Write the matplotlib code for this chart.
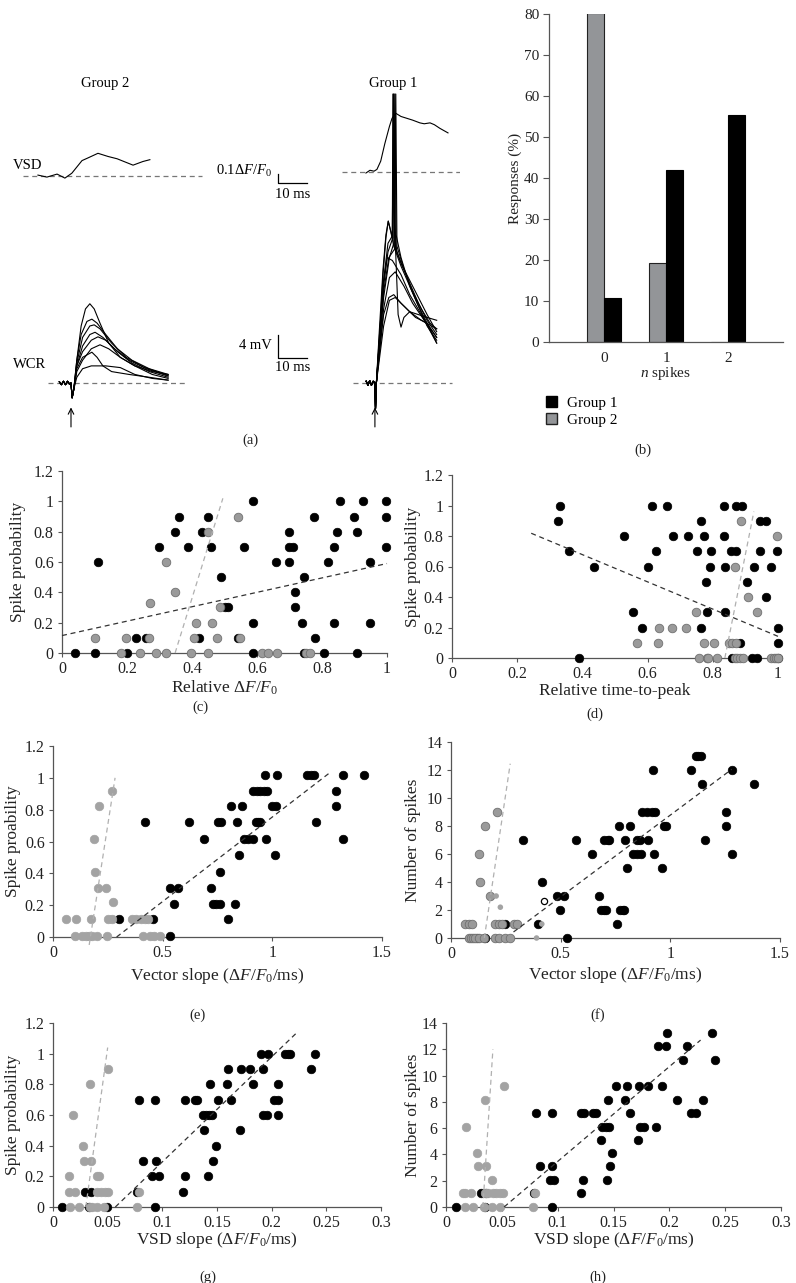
import numpy as np
import matplotlib
matplotlib.use('Agg')
import matplotlib.pyplot as plt
from matplotlib.patches import Patch
from matplotlib.ticker import FuncFormatter, MultipleLocator

plt.rcParams['font.family'] = ['Liberation Serif', 'DejaVu Serif']
plt.rcParams['mathtext.fontset'] = 'custom'
plt.rcParams['mathtext.rm'] = 'Liberation Serif'
plt.rcParams['mathtext.it'] = 'Liberation Serif:italic'
plt.rcParams['font.size'] = 10

W, H = 796, 1283
GRAY = '#9a9a9a'
GRAY_EDGE = '#707070'
SPINE = '#555555'

# ---------------- (a) example traces: time (ms) vs mV, VSD in dF/F0 ----------------
g2_pre = [(-4, 0.2), (-3.3, -0.3), (-2.6, 0.3), (-1.9, -0.3), (-1.2, 0.3), (-0.5, -0.2), (0, 0), (0.4, -2.6)]
g2_wcr = [
    [(1, -1), (2, 4), (3.5, 10), (5, 13), (6.5, 13.9), (8, 13), (10, 10.5), (13, 7), (17, 4.5), (22, 3), (28, 2), (33.5, 1.5)],
    [(1, -1), (2, 4), (3.5, 8.5), (5.5, 10.8), (7.2, 11.2), (9, 10.5), (12, 8.5), (16, 6), (21, 4), (27, 2.5), (33.5, 1.5)],
    [(1, -1), (2, 3.5), (4, 8), (6.5, 10), (8, 10.2), (10, 9.5), (14, 7), (19, 4.5), (25, 2.8), (33.5, 1.3)],
    [(1, -1), (2, 3), (4, 6.5), (6.5, 8.5), (8.3, 8.9), (11, 8), (15, 6), (20, 4), (26, 2.5), (33.5, 1.2)],
    [(1, -1), (2, 3), (4, 5.5), (7, 7.5), (9.3, 8.1), (12, 7.5), (16, 5.5), (21, 3.5), (27, 2), (33.5, 1)],
    [(1, -1), (2, 2), (4, 4), (7, 6), (10, 6.7), (13, 6), (17, 4.5), (22, 3), (28, 1.5), (33.5, 0.8)],
    [(1, -1), (2, 2.5), (4, 4.5), (7.2, 5.4), (9, 4.5), (11, 3), (14, 2), (20, 1.5), (27, 1), (33.5, 0.5)],
    [(1, -1), (2, 1), (4, 2.5), (7, 3), (12, 3), (17, 2.7), (22, 1.5), (28, 0.8), (33.5, 0.5)],
]
g2_vsd = [(-11.4, 0.011), (-8.3, -0.011), (-4.8, 0.022), (-2.1, -0.022), (0.3, 0.032), (3.8, 0.17),
          (5.9, 0.20), (9.3, 0.25), (12.8, 0.215), (15.9, 0.19), (21.4, 0.12), (24.8, 0.16), (27.2, 0.18)]

g1_pre = [(-3, 0.3), (-2.4, -0.4), (-1.8, 0.4), (-1.2, -0.4), (-0.6, 0.3), (0, 0), (0.2, -4.5), (0.5, 0)]
g1_wcr = [
    [(1.5, 9), (2.8, 20), (3.8, 26), (4.6, 28.4), (5.3, 27), (6, 25.5), (6.2, 50.7), (6.5, 30), (7, 24), (9, 21), (12, 17.5), (15, 14), (18, 11), (21.3, 8.5)],
    [(1.5, 8), (3, 18), (4.5, 24.5), (6, 25.8), (6.4, 50.7), (6.8, 28), (7.5, 23), (9.5, 20.5), (12, 18), (15, 15), (18, 12), (21.3, 9)],
    [(1.5, 7), (3, 17), (4.5, 23), (6.2, 25.5), (6.6, 50.7), (7, 25), (8, 12), (9, 9.8), (10, 11.5), (12, 12.5), (15, 12), (18, 11.5), (21.3, 11)],
    [(1.5, 6), (3, 15), (5, 22), (6.5, 24.5), (6.9, 50.7), (7.3, 26), (9, 22), (12, 17), (15, 13.5), (18, 10.5), (21.3, 8)],
    [(1.5, 6), (3, 16), (4.8, 22), (6.8, 23.5), (7.2, 50.7), (7.6, 24), (10, 20), (13, 16), (16, 13), (19, 10.5), (21.3, 9.5)],
    [(1.5, 7), (3, 18), (4.2, 22), (6, 21.5), (9, 19), (12, 15.5), (16, 12), (21.3, 7)],
    [(1.5, 5), (3, 13), (5, 18.5), (7, 19.5), (10, 17), (13, 14), (17, 11), (21.3, 8)],
    [(1.5, 5), (3, 12), (4.8, 15), (6.5, 15.5), (9, 14), (12, 12.5), (16, 11), (21.3, 9.5)],
    [(1.5, 4), (3, 10), (5, 14.5), (7, 15), (10, 13.5), (14, 11.5), (18, 10.5), (21.3, 7)],
    [(1.5, 7), (2.8, 19), (3.8, 25.5), (4.6, 28.4), (5.5, 26.5), (6.5, 24), (9, 20.5), (12, 17), (15, 13.5), (18, 10), (21.3, 7.5)],
]
g1_vsd = [(-3.1, -0.01), (-1.7, 0.02), (-0.3, 0.01), (0.7, 0.03), (2, 0.12), (3.4, 0.31), (5, 0.5), (5.9, 0.59),
          (7.2, 0.645), (9, 0.61), (11, 0.59), (13, 0.57), (15.5, 0.54), (17, 0.53), (19, 0.54), (20.5, 0.52),
          (22.4, 0.48), (25.2, 0.43)]

# ---------------- (b) responses ----------------
n_spikes = [0, 1, 2]
resp_g1 = [10.8, 42.0, 55.3]
resp_g2 = [80.3, 19.3, 0.0]

# ---------------- (c) relative dF/F0 vs spike probability ----------------
c_g1_x = [0.589, 0.856, 0.926, 0.997, 0.36, 0.45, 0.776, 0.897, 0.997, 0.349, 0.432, 0.698, 0.847, 0.908,
          0.299, 0.389, 0.458, 0.56, 0.698, 0.71, 0.836, 0.997, 0.11, 0.657, 0.698, 0.817, 0.947, 0.489, 0.746,
          0.717, 0.502, 0.511, 0.717, 0.589, 0.739, 0.836, 0.947, 0.228, 0.258, 0.421, 0.54, 0.778,
          0.04, 0.1, 0.199, 0.589, 0.746, 0.807, 0.908]
c_g1_y = [1, 1, 1, 1, 0.9, 0.9, 0.9, 0.9, 0.9, 0.8, 0.8, 0.8, 0.8, 0.8,
          0.7, 0.7, 0.7, 0.7, 0.7, 0.7, 0.7, 0.7, 0.6, 0.6, 0.6, 0.6, 0.6, 0.5, 0.5,
          0.4, 0.3, 0.3, 0.3, 0.2, 0.2, 0.2, 0.2, 0.1, 0.1, 0.1, 0.1, 0.1,
          0, 0, 0, 0, 0, 0, 0]
c_g2_x = [0.54, 0.45, 0.319, 0.349, 0.271, 0.487, 0.412, 0.463, 0.1, 0.197, 0.268, 0.407, 0.478, 0.548,
          0.181, 0.24, 0.289, 0.319, 0.397, 0.45, 0.615, 0.633, 0.661, 0.752, 0.762]
c_g2_y = [0.9, 0.8, 0.6, 0.4, 0.33, 0.3, 0.2, 0.2, 0.1, 0.1, 0.1, 0.1, 0.1, 0.1,
          0, 0, 0, 0, 0, 0, 0, 0, 0, 0, 0]
c_fit_g1 = ([0, 1], [0.115, 0.59])
c_fit_g2 = ([0.348, 0.495], [0, 1.02])

# ---------------- (d) relative time-to-peak ----------------
d_g1_x = [0.332, 0.613, 0.659, 0.834, 0.87, 0.89, 0.325, 0.765, 0.944, 0.962,
          0.528, 0.678, 0.725, 0.773, 0.834, 0.359, 0.625, 0.753, 0.796, 0.855, 0.87, 0.944, 0.998,
          0.436, 0.6, 0.79, 0.836, 0.926, 0.98, 0.78, 0.906, 0.963, 0.555, 0.782, 0.838,
          0.583, 0.764, 1.0, 0.884, 1.0, 0.39, 0.858, 0.92, 0.936, 1.0]
d_g1_y = [1, 1, 1, 1, 1, 1, 0.9, 0.9, 0.9, 0.9,
          0.8, 0.8, 0.8, 0.8, 0.8, 0.7, 0.7, 0.7, 0.7, 0.7, 0.7, 0.7, 0.7,
          0.6, 0.6, 0.6, 0.6, 0.6, 0.6, 0.5, 0.5, 0.4, 0.3, 0.3, 0.3,
          0.2, 0.2, 0.2, 0.1, 0.1, 0, 0, 0, 0, 0]
d_g2_x = [0.888, 0.998, 0.867, 0.908, 0.748, 0.935, 0.635, 0.675, 0.717,
          0.568, 0.632, 0.773, 0.803, 0.85, 0.86, 0.871,
          0.757, 0.783, 0.786, 0.814, 0.868, 0.875, 0.882, 0.893, 0.98, 0.987, 0.994, 1.0]
d_g2_y = [0.9, 0.8, 0.6, 0.4, 0.3, 0.3, 0.2, 0.2, 0.2,
          0.1, 0.1, 0.1, 0.1, 0.1, 0.1, 0.1,
          0, 0, 0, 0, 0, 0, 0, 0, 0, 0, 0, 0]
d_fit_g1 = ([0.243, 1.0], [0.818, 0.142])
d_fit_g2 = ([0.837, 0.926], [0, 0.96])

# ---------------- (e) vector slope vs spike probability ----------------
e_g1_x = [0.965, 1.02, 1.16, 1.175, 1.19, 1.32, 1.42, 0.91, 0.93, 0.945, 0.96, 0.975, 1.29,
          0.81, 0.86, 1.0, 1.015, 1.29, 0.42, 0.62, 0.75, 0.765, 0.84, 0.925, 0.935, 0.945, 1.2,
          0.69, 0.87, 0.89, 0.91, 0.97, 1.32, 0.85, 1.01, 0.76, 0.535, 0.57, 0.72,
          0.55, 0.73, 0.745, 0.76, 0.83, 0.3, 0.455, 0.8, 0.535]
e_g1_y = [1.02] * 7 + [0.92] * 6 + [0.82] * 5 + [0.72] * 9 + [0.615] * 6 + [0.515] * 2 + [0.41] + \
         [0.31] * 3 + [0.21] * 5 + [0.11] * 3 + [0.005]
e_g2_x = [0.27, 0.21, 0.185, 0.19, 0.205, 0.24, 0.275,
          0.06, 0.105, 0.175, 0.25, 0.27, 0.36, 0.38, 0.4, 0.42, 0.435,
          0.1, 0.13, 0.15, 0.165, 0.18, 0.2, 0.245, 0.41, 0.44, 0.46, 0.49]
e_g2_y = [0.92, 0.82, 0.615, 0.41, 0.31, 0.31, 0.22] + [0.11] * 10 + [0.005] * 11
e_fit_g1 = ([0.29, 1.26], [0, 1.03])
e_fit_g2 = ([0.165, 0.283], [-0.05, 1.0])

# ---------------- (f) vector slope vs number of spikes ----------------
f_g1_x = [1.115, 1.128, 1.141, 0.923, 1.093, 1.28, 1.143, 1.383, 0.87, 0.895, 0.915, 0.93, 1.253,
          0.767, 0.814, 0.973, 0.98, 1.253, 0.328, 0.569, 0.698, 0.714, 0.72, 0.795, 0.85, 0.862, 0.9, 1.158,
          0.642, 0.832, 0.847, 0.867, 0.926, 1.28, 0.803, 0.964, 0.414, 0.483, 0.513, 0.673,
          0.498, 0.683, 0.698, 0.707, 0.771, 0.783, 0.79, 0.247, 0.396, 0.759, 0.531, 0.12, 0.155]
f_g1_y = [13] * 3 + [12] * 3 + [11] * 2 + [9] * 5 + [8] * 5 + [7] * 10 + [6] * 6 + [5] * 2 + [4] + \
         [3] * 3 + [2] * 7 + [1] * 3 + [0] * 3
f_g2_x = [0.21, 0.156, 0.129, 0.134, 0.179, 0.065, 0.08, 0.096, 0.202, 0.217, 0.232, 0.285, 0.3,
          0.08, 0.09, 0.1, 0.11, 0.126, 0.149, 0.202, 0.22, 0.247, 0.27]
f_g2_y = [9, 8, 6, 4, 3] + [1] * 8 + [0] * 10
f_small_x = [0.206, 0.225, 0.414, 0.39]
f_small_y = [3, 2.2, 1, 0]
f_open = ([0.425], [2.64])
f_fit_g1 = ([0.285, 1.28], [0.43, 12.05])
f_fit_g2 = ([0.152, 0.27], [0, 12.45])

# ---------------- (g) VSD slope vs spike probability ----------------
g_g1_x = [0.19, 0.197, 0.212, 0.215, 0.217, 0.24, 0.16, 0.172, 0.18, 0.192, 0.236,
          0.144, 0.159, 0.183, 0.206, 0.079, 0.093, 0.121, 0.13, 0.132, 0.151, 0.163, 0.202, 0.206,
          0.137, 0.14, 0.143, 0.145, 0.192, 0.196, 0.206, 0.138, 0.171, 0.149,
          0.082, 0.094, 0.146, 0.091, 0.097, 0.121, 0.142, 0.029, 0.035, 0.077, 0.119,
          0.008, 0.033, 0.049, 0.093]
g_g1_y = [1] * 6 + [0.9] * 5 + [0.8] * 4 + [0.7] * 9 + [0.6] * 7 + [0.5] * 2 + [0.4] + \
         [0.3] * 3 + [0.2] * 4 + [0.1] * 4 + [0] * 4
g_g2_x = [0.05, 0.034, 0.018, 0.027, 0.028, 0.035, 0.015, 0.04, 0.042,
          0.015, 0.02, 0.04, 0.044, 0.048, 0.05, 0.079,
          0.016, 0.024, 0.034, 0.036, 0.04, 0.047, 0.077]
g_g2_y = [0.9, 0.8, 0.6, 0.4, 0.3, 0.3, 0.2, 0.2, 0.2] + [0.1] * 7 + [0] * 7
g_fit_g1 = ([0.057, 0.222], [0, 1.13])
g_fit_g2 = ([0.03, 0.05], [0, 1.04])

# ---------------- (h) VSD slope vs number of spikes ----------------
h_g1_x = [0.198, 0.238, 0.19, 0.197, 0.216, 0.212, 0.241, 0.152, 0.162, 0.173, 0.181, 0.193,
          0.145, 0.16, 0.207, 0.23, 0.081, 0.095, 0.121, 0.124, 0.132, 0.134, 0.165, 0.219, 0.224,
          0.14, 0.143, 0.146, 0.174, 0.177, 0.188, 0.139, 0.172, 0.149, 0.084, 0.095, 0.147,
          0.093, 0.097, 0.123, 0.144, 0.031, 0.036, 0.079, 0.121, 0.009, 0.035, 0.095]
h_g1_y = [13.25] * 2 + [12.25] * 3 + [11.2] * 2 + [9.2] * 5 + [8.15] * 4 + [7.15] * 9 + [6.1] * 6 + \
         [5.1] * 2 + [4.1] + [3.1] * 3 + [2.05] * 4 + [1.05] * 4 + [0] * 3
h_g2_x = [0.052, 0.035, 0.018, 0.028, 0.029, 0.036, 0.041,
          0.015, 0.017, 0.022, 0.035, 0.038, 0.042, 0.045, 0.048, 0.051, 0.08,
          0.017, 0.024, 0.034, 0.041, 0.048, 0.078]
h_g2_y = [9.2, 8.15, 6.1, 4.1, 3.1, 3.1, 2.05] + [1.05] * 10 + [0] * 6
h_fit_g1 = ([0.052, 0.228], [0, 12.7])
h_fit_g2 = ([0.033, 0.042], [0, 12.0])

fig = plt.figure(figsize=(W / 100, H / 100), dpi=100)


def px_axes(left, top, right, bottom):
    return fig.add_axes([left / W, 1 - bottom / H, (right - left) / W, (bottom - top) / H])


def fig_text(x, y, s, size=10.5):
    fig.text(x / W, 1 - y / H, s, ha='center', va='center', fontsize=size, color='#222222')


fmt = FuncFormatter(lambda v, p: f'{round(v, 3):g}')


def style_axes(ax, box, ylab_x, xlab_y, tick_size=11.5):
    left, top, right, bottom = box
    for s in ('top', 'right'):
        ax.spines[s].set_visible(False)
    for s in ('left', 'bottom'):
        ax.spines[s].set_color(SPINE)
        ax.spines[s].set_linewidth(0.9)
    ax.tick_params(direction='out', length=3, width=0.8, color=SPINE, labelcolor='#222222', labelsize=tick_size)
    ax.tick_params(axis='x', pad=3)
    ax.tick_params(axis='y', pad=3)
    ax.xaxis.set_major_formatter(fmt)
    ax.yaxis.set_major_formatter(fmt)
    ax.yaxis.label.set_va('center')
    ax.xaxis.label.set_va('center')
    ax.yaxis.set_label_coords((ylab_x - left) / (right - left), 0.5)
    ax.xaxis.set_label_coords(0.5, (bottom - xlab_y) / (bottom - top))


def scatter_panel(box, g1x, g1y, g2x, g2y, fit1, fit2, xlim, xstep, ylim, ystep, xlabel, ylabel,
                  ylab_x, xlab_y, gray_edge=True):
    ax = px_axes(*box)
    ax.scatter(g1x, g1y, s=38, c='black', edgecolors='black', linewidths=0.5, zorder=3, clip_on=False)
    if gray_edge:
        ax.scatter(g2x, g2y, s=38, c=GRAY, edgecolors=GRAY_EDGE, linewidths=0.6, zorder=4, clip_on=False)
    else:
        ax.scatter(g2x, g2y, s=38, c='#a3a3a3', edgecolors='#a3a3a3', linewidths=0.5, zorder=4, clip_on=False)
    ax.plot(*fit1, ls=(0, (4, 3)), color='#333333', lw=0.9, zorder=5, clip_on=False)
    ax.plot(*fit2, ls=(0, (4, 3)), color='#b0b0b0', lw=0.9, zorder=5, clip_on=False)
    ax.set_xlim(*xlim)
    ax.set_ylim(*ylim)
    ax.xaxis.set_major_locator(MultipleLocator(xstep))
    ax.yaxis.set_major_locator(MultipleLocator(ystep))
    ax.set_xlabel(xlabel, fontsize=12.5, color='#222222')
    ax.set_ylabel(ylabel, fontsize=12.5, color='#222222')
    style_axes(ax, box, ylab_x, xlab_y)
    return ax


# ---------------- panel (a) ----------------
ax_a = px_axes(0, 60, 460, 430)
ax_a.set_xlim(-24.48, 134.14)
ax_a.set_ylim(-8.25, 56.67)
ax_a.axis('off')
G1_T0 = 104.8      # horizontal placement of group 1 traces
VSD_BASE2, VSD_BASE1 = 36.3, 37.0
VSD_SCALE = 16.0   # mV-units per dF/F0 on the drawing
dash = dict(ls=(0, (4, 3)), color='#777777', lw=0.9)

ax_a.plot([-16.6, 45.2], [VSD_BASE2] * 2, **dash)
ax_a.plot([-7.9, 40], [0, 0], **dash)
ax_a.plot(np.array([-11.4, 30.5]) + G1_T0, [VSD_BASE1] * 2, **dash)
ax_a.plot(np.array([-7.6, 26.5]) + G1_T0, [0, 0], **dash)

for tr in g2_wcr:
    t, v = np.array(g2_pre + tr).T
    ax_a.plot(t, v, color='black', lw=0.8)
t, v = np.array(g2_vsd).T
ax_a.plot(t, VSD_BASE2 + v * VSD_SCALE, color='black', lw=0.8)

for tr in g1_wcr:
    t, v = np.array(g1_pre + tr).T
    ax_a.plot(t + G1_T0, v, color='black', lw=0.8)
t, v = np.array(g1_vsd).T
ax_a.plot(t + G1_T0, VSD_BASE1 + v * VSD_SCALE, color='black', lw=0.8)

for t0 in (0, G1_T0):
    ax_a.annotate('', xy=(t0, -3.8), xytext=(t0, -8.2),
                  arrowprops=dict(arrowstyle='->', lw=0.8, color='black', mutation_scale=10))

# scale bars
sb_t = 71.4
ax_a.plot([sb_t, sb_t, sb_t + 10], [35.1 + 0.1 * VSD_SCALE, 35.1, 35.1], color='black', lw=0.9)
ax_a.plot([sb_t, sb_t, sb_t + 10], [4.39 + 4, 4.39, 4.39], color='black', lw=0.9)
ax_a.text(sb_t - 1.8, 37.2, r'$0.1\Delta F/F_0$', ha='right', va='center', fontsize=10.5)
ax_a.text(sb_t + 5, 33.1, '10 ms', ha='center', va='center', fontsize=10.5)
ax_a.text(sb_t - 2.1, 6.6, '4 mV', ha='right', va='center', fontsize=10.5)
ax_a.text(sb_t + 5, 2.8, '10 ms', ha='center', va='center', fontsize=10.5)
ax_a.text(11.7, 52.6, 'Group 2', ha='center', va='center', fontsize=10.5)
ax_a.text(G1_T0 + 6.2, 52.6, 'Group 1', ha='center', va='center', fontsize=10.5)
ax_a.text(-20.0, 38.2, 'VSD', ha='left', va='center', fontsize=10.5)
ax_a.text(-20.0, 3.2, 'WCR', ha='left', va='center', fontsize=10.5)

# ---------------- panel (b) ----------------
box_b = (549, 14, 783, 342)
ax_b = px_axes(*box_b)
xb = np.array(n_spikes)
bw = 0.27
ax_b.bar(xb - bw / 2, resp_g2, width=bw, color='#939598', edgecolor='#222222', linewidth=0.8, label='Group 2')
ax_b.bar(xb + bw / 2, resp_g1, width=bw, color='black', edgecolor='black', linewidth=0.8, label='Group 1')
ax_b.set_xlim(-0.887, 2.887)
ax_b.set_ylim(0, 80)
ax_b.set_xticks(n_spikes)
ax_b.yaxis.set_major_locator(MultipleLocator(10))
ax_b.set_ylabel('Responses (%)', fontsize=11, color='#222222')
ax_b.set_xlabel(r'$n$ spikes', fontsize=11, color='#222222')
style_axes(ax_b, box_b, 515, 373, tick_size=11)
ax_b.tick_params(axis='x', length=0, pad=7)
ax_b.tick_params(axis='y', length=4)
handles = [Patch(facecolor='black', edgecolor='black', label='Group 1'),
           Patch(facecolor='#939598', edgecolor='#222222', label='Group 2')]
fig.legend(handles=handles, loc='upper left', bbox_to_anchor=(546 / W, 1 - 396 / H), frameon=False,
           fontsize=11, handlelength=0.75, handleheight=0.75, handletextpad=0.6, labelspacing=0.2,
           borderaxespad=0, borderpad=0)

# ---------------- scatter panels ----------------
scatter_panel((62, 471, 387, 653), c_g1_x, c_g1_y, c_g2_x, c_g2_y, c_fit_g1, c_fit_g2,
              (0, 1), 0.2, (0, 1.2), 0.2, r'Relative $\Delta F/F_0$', 'Spike probability', 18, 688)
scatter_panel((452, 475, 778, 658), d_g1_x, d_g1_y, d_g2_x, d_g2_y, d_fit_g1, d_fit_g2,
              (0, 1), 0.2, (0, 1.2), 0.2, 'Relative time-to-peak', 'Spike probability', 413, 691)
scatter_panel((53, 746, 382, 937), e_g1_x, e_g1_y, e_g2_x, e_g2_y, e_fit_g1, e_fit_g2,
              (0, 1.5), 0.5, (0, 1.2), 0.2, r'Vector slope ($\Delta F/F_0$/ms)', 'Spike proability', 13, 976,
              gray_edge=False)
ax_f = scatter_panel((451, 742, 780, 938), f_g1_x, f_g1_y, f_g2_x, f_g2_y, f_fit_g1, f_fit_g2,
                     (0, 1.5), 0.5, (0, 14), 2, r'Vector slope ($\Delta F/F_0$/ms)', 'Number of spikes', 413, 975)
ax_f.scatter(f_small_x, f_small_y, s=16, c='#a3a3a3', edgecolors='none', zorder=6, clip_on=False)
ax_f.scatter(*f_open, s=20, facecolors='white', edgecolors='black', linewidths=0.9, zorder=6)
scatter_panel((53, 1023, 381, 1207), g_g1_x, g_g1_y, g_g2_x, g_g2_y, g_fit_g1, g_fit_g2,
              (0, 0.3), 0.05, (0, 1.2), 0.2, r'VSD slope ($\Delta F/F_0$/ms)', 'Spike probability', 13, 1240,
              gray_edge=False)
scatter_panel((446, 1023, 781, 1207), h_g1_x, h_g1_y, h_g2_x, h_g2_y, h_fit_g1, h_fit_g2,
              (0, 0.3), 0.05, (0, 14), 2, r'VSD slope ($\Delta F/F_0$/ms)', 'Number of spikes', 413, 1240,
              gray_edge=False)

# panel letters
for lab, x, y in [('(a)', 250, 440), ('(b)', 643, 450), ('(c)', 200, 707), ('(d)', 595, 714),
                  ('(e)', 198, 1015), ('(f)', 598, 1015), ('(g)', 208, 1277), ('(h)', 598, 1277)]:
    fig_text(x, y, lab)

fig.savefig('out.png', dpi=100, facecolor='white')
